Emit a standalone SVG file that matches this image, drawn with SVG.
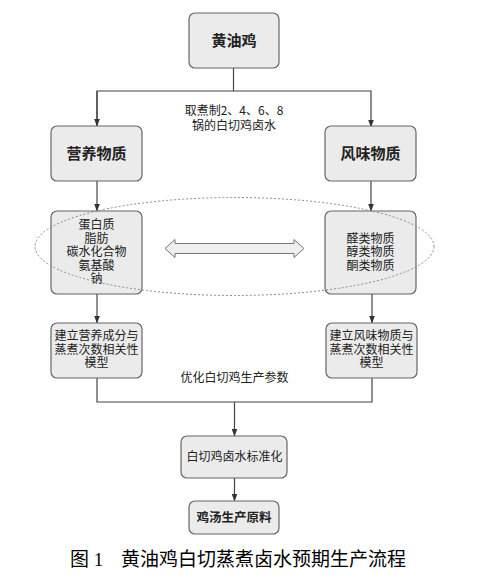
<svg xmlns="http://www.w3.org/2000/svg" width="485" height="580" viewBox="0 0 485 580">
<style>
.box{fill:#ebebeb;stroke:#666;stroke-width:1.2}
.ln{fill:none;stroke:#444;stroke-width:1.2}
.t{font-family:"Noto Sans CJK SC","Liberation Sans",sans-serif;font-size:12px;fill:#222;text-anchor:middle}
.b{font-family:"Noto Sans CJK SC","Liberation Sans",sans-serif;font-weight:bold;fill:#222;text-anchor:middle}
.cap{font-family:"Liberation Serif","Noto Sans CJK SC",serif;font-size:19px;fill:#000}
</style>
<defs>
<marker id="ah" markerWidth="8" markerHeight="6" refX="7.5" refY="3" orient="auto" markerUnits="userSpaceOnUse">
<path d="M0,0 L8,3 L0,6 Z" fill="#333"/>
</marker>
</defs>
<rect width="485" height="580" fill="#fff"/>
<g id="connectors">
<path class="ln" d="M233.5,68 V91"/>
<path class="ln" d="M97,127 V91 H371 V127" marker-end="url(#ah)"/>
<path class="ln" d="M97,91 V126" marker-end="url(#ah)"/>
<path class="ln" d="M97,181 V211" marker-end="url(#ah)"/>
<path class="ln" d="M371,181 V211" marker-end="url(#ah)"/>
<path class="ln" d="M97,294 V323" marker-end="url(#ah)"/>
<path class="ln" d="M372,294 V323" marker-end="url(#ah)"/>
<path class="ln" d="M97,378 V402 H372 V378"/>
<path class="ln" d="M234.5,402 V436" marker-end="url(#ah)"/>
<path class="ln" d="M234.5,478 V501" marker-end="url(#ah)"/>
<text class="t" y="115"><tspan x="234">取煮制2、4、6、8</tspan><tspan x="234" dy="14.5">锅的白切鸡卤水</tspan></text>
<text class="t" x="234.5" y="382">优化白切鸡生产参数</text>
</g>
<g id="n-top"><rect class="box" x="189" y="13" width="90" height="55" rx="6"/><text class="b" x="234" y="46" font-size="15">黄油鸡</text></g>
<g id="n-nutri"><rect class="box" x="51" y="126" width="91" height="55" rx="6"/><text class="b" x="96.5" y="158.5" font-size="15">营养物质</text></g>
<g id="n-flavor"><rect class="box" x="325" y="126" width="91" height="55" rx="6"/><text class="b" x="370.5" y="158.5" font-size="15">风味物质</text></g>
<g id="n-nutri-list"><rect class="box" x="51" y="211" width="91" height="83" rx="6"/>
<text class="t" y="229"><tspan x="96.5">蛋白质</tspan><tspan x="96.5" dy="13.5">脂肪</tspan><tspan x="96.5" dy="13.5">碳水化合物</tspan><tspan x="96.5" dy="13.5">氨基酸</tspan><tspan x="96.5" dy="13.5">钠</tspan></text></g>
<g id="n-flavor-list"><rect class="box" x="325" y="211" width="91" height="83" rx="6"/>
<text class="t" y="242.5"><tspan x="370.5">醛类物质</tspan><tspan x="370.5" dy="13.5">醇类物质</tspan><tspan x="370.5" dy="13.5">酮类物质</tspan></text></g>
<g id="group-ellipse"><ellipse cx="234.5" cy="246.5" rx="199.5" ry="49" fill="none" stroke="#888" stroke-width="1" stroke-dasharray="2,2"/></g>
<g id="double-arrow"><path d="M165,248.5 L175,239.5 L175,243.5 L294,243.5 L294,239.5 L304,248.5 L294,257.5 L294,253.5 L175,253.5 L175,257.5 Z" fill="#efefef" stroke="#777" stroke-width="1"/></g>
<g id="n-model-l"><rect class="box" x="51" y="323" width="91" height="55" rx="6"/>
<text class="t" y="340"><tspan x="96.5">建立营养成分与</tspan><tspan x="96.5" dy="13.5">蒸煮次数相关性</tspan><tspan x="96.5" dy="13.5">模型</tspan></text></g>
<g id="n-model-r"><rect class="box" x="326" y="323" width="91" height="55" rx="6"/>
<text class="t" y="340"><tspan x="371.5">建立风味物质与</tspan><tspan x="371.5" dy="13.5">蒸煮次数相关性</tspan><tspan x="371.5" dy="13.5">模型</tspan></text></g>
<g id="n-std"><rect class="box" x="181" y="436" width="106" height="42" rx="6"/><text class="t" x="234.5" y="461">白切鸡卤水标准化</text></g>
<g id="n-raw"><rect class="box" x="189" y="501" width="90" height="33" rx="6"/><text class="b" x="234" y="522" font-size="12.5">鸡汤生产原料</text></g>
<text class="cap" y="566"><tspan x="70">图 1</tspan><tspan x="121">黄油鸡白切蒸煮卤水预期生产流程</tspan></text>
</svg>
